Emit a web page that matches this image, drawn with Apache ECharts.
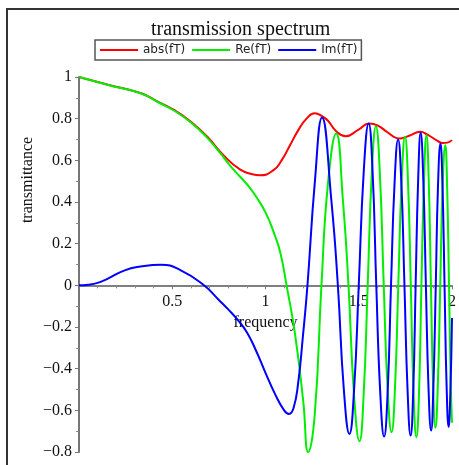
<!DOCTYPE html>
<html>
<head>
<meta charset="utf-8">
<script src="https://cdn.jsdelivr.net/npm/echarts@6/dist/echarts.min.js"></script>
<style>
  html, body { margin: 0; padding: 0; background: #fff; }
  #chart { width: 459px; height: 465px; }
</style>
</head>
<body>
<div id="chart"></div>
<script>
// |T(f)| — modulus of the transmission coefficient
const absFreq = [0, 0.156, 0.333, 0.422, 0.511, 0.6, 0.688, 0.777, 0.865, 0.93, 0.97, 1.043, 1.087, 1.13, 1.176, 1.22, 1.264, 1.303, 1.335, 1.379, 1.43, 1.495, 1.557, 1.6, 1.654, 1.7, 1.723, 1.77, 1.83, 1.87, 1.92, 1.95, 1.975, 2.0];
const absVal  = [1.0, 0.963, 0.922, 0.882, 0.841, 0.785, 0.713, 0.622, 0.555, 0.533, 0.528, 0.553, 0.601, 0.67, 0.745, 0.8, 0.826, 0.812, 0.79, 0.74, 0.716, 0.745, 0.777, 0.768, 0.735, 0.708, 0.705, 0.718, 0.737, 0.722, 0.695, 0.683, 0.685, 0.697];

// Re T(f)
const reFreq = [0, 0.156, 0.333, 0.422, 0.511, 0.6, 0.688, 0.759, 0.81, 0.865, 0.91, 0.95, 1.0, 1.05, 1.08, 1.113, 1.158, 1.202, 1.229, 1.264, 1.3, 1.335, 1.379, 1.415, 1.445, 1.475, 1.504, 1.526, 1.548, 1.57, 1.592, 1.613, 1.634, 1.655, 1.676, 1.694, 1.712, 1.73, 1.748, 1.764, 1.779, 1.794, 1.809, 1.823, 1.836, 1.85, 1.863, 1.875, 1.887, 1.899, 1.911, 1.924, 1.937, 1.95, 1.964, 1.974, 1.984, 1.993, 2.0];
const reVal  = [1.0, 0.962, 0.921, 0.88, 0.838, 0.782, 0.708, 0.633, 0.575, 0.52, 0.475, 0.425, 0.35, 0.24, 0.155, 0.0, -0.232, -0.553, -0.8, -0.62, 0.0, 0.489, 0.729, 0.409, 0.0, -0.53, -0.748, -0.53, 0.0, 0.54, 0.764, 0.54, 0.0, -0.5, -0.705, -0.5, 0.0, 0.5, 0.713, 0.5, 0.0, -0.52, -0.729, -0.52, 0.0, 0.51, 0.721, 0.51, 0.0, -0.49, -0.684, -0.48, 0.0, 0.48, 0.673, 0.47, 0.0, -0.46, -0.66];

// Im T(f)
const imFreq = [0, 0.05, 0.1, 0.15, 0.245, 0.33, 0.44, 0.546, 0.67, 0.75, 0.803, 0.85, 0.9, 0.95, 1.0, 1.05, 1.1, 1.126, 1.15, 1.175, 1.2, 1.225, 1.264, 1.303, 1.353, 1.388, 1.42, 1.45, 1.475, 1.5, 1.527, 1.553, 1.574, 1.594, 1.615, 1.636, 1.655, 1.673, 1.692, 1.711, 1.728, 1.745, 1.762, 1.778, 1.792, 1.805, 1.819, 1.832, 1.846, 1.86, 1.874, 1.888, 1.9, 1.913, 1.925, 1.938, 1.949, 1.96, 1.971, 1.982, 1.991, 2.0];
const imVal  = [0, 0.003, 0.012, 0.03, 0.072, 0.09, 0.099, 0.072, 0.0, -0.07, -0.118, -0.165, -0.225, -0.315, -0.42, -0.52, -0.6, -0.617, -0.59, -0.47, -0.25, 0.0, 0.489, 0.806, 0.409, 0.0, -0.5, -0.713, -0.5, 0.0, 0.55, 0.777, 0.55, 0.0, -0.51, -0.726, -0.51, 0.0, 0.49, 0.7, 0.5, 0.0, -0.51, -0.721, -0.51, 0.0, 0.52, 0.732, 0.51, 0.0, -0.49, -0.697, -0.49, 0.0, 0.48, 0.681, 0.48, 0.0, -0.48, -0.68, -0.52, -0.157];

const seriesNames = ['abs(fT)', 'Re(fT)', 'Im(fT)'];
const seriesColors = ['#ff0000', '#00ee00', '#0000ff'];

const xTicks = { min: 0, max: 2, step: 0.5 };
const yTicks = { min: -0.8, max: 1, step: 0.2 };

const zip = (xs, ys) => xs.map((x, i) => [x, ys[i]]);
const serif = '"Liberation Serif", "DejaVu Serif", serif';

const fmt = v => {
  const n = Number(v.toFixed(1));
  if (n === 0) return '0';
  return (n < 0 ? '\u2212' : '') + String(Math.abs(n));
};

// plot area
const gridBox = { left: 79, right: 4, top: 77, bottom: 13 };
const chartHeight = 465;
const plotHeight = chartHeight - gridBox.top - gridBox.bottom;
// lift the frequency axis from the bottom edge up to the y = 0 line
const xAxisLift = -plotHeight * (0 - yTicks.min) / (yTicks.max - yTicks.min);

const chart = echarts.init(document.getElementById('chart'), null, { renderer: 'canvas' });

const lineSeries = (name, color, data) => ({
  name: name,
  type: 'line',
  data: data,
  smooth: true,
  showSymbol: false,
  symbol: 'none',
  clip: false,
  animation: false,
  lineStyle: { color: color, width: 2 },
  itemStyle: { color: color }
});

chart.setOption({
  animation: false,
  title: {
    text: 'transmission spectrum',
    left: 146,
    top: 15,
    textStyle: { fontFamily: serif, fontSize: 20, fontWeight: 'normal', color: '#111' }
  },
  legend: {
    left: 95,
    top: 40,
    padding: [4, 4, 4, 5],
    itemGap: 7,
    itemWidth: 38,
    itemHeight: 2,
    borderColor: '#555',
    borderWidth: 1.5,
    icon: 'rect',
    textStyle: { fontFamily: '"DejaVu Sans", sans-serif', fontSize: 12, color: '#222' },
    data: seriesNames
  },
  graphic: [
    {
      type: 'rect',
      shape: { x: 7, y: 9, width: 470, height: 480 },
      style: { fill: 'none', stroke: '#333', lineWidth: 2 },
      silent: true
    },
    {
      type: 'text',
      x: 28,
      y: 180,
      rotation: Math.PI / 2,
      style: {
        text: 'transmittance',
        font: '16px ' + serif,
        fill: '#111',
        textAlign: 'center',
        textVerticalAlign: 'middle'
      },
      silent: true
    }
  ],
  grid: Object.assign({ containLabel: false }, gridBox),
  xAxis: {
    type: 'value',
    min: xTicks.min,
    max: xTicks.max,
    interval: xTicks.step,
    position: 'bottom',
    offset: xAxisLift,
    name: 'frequency',
    nameLocation: 'middle',
    nameGap: 29,
    nameTextStyle: { fontFamily: serif, fontSize: 16, color: '#111' },
    axisLine: { onZero: false, lineStyle: { color: '#555', width: 1.5 } },
    axisTick: { show: true, length: 4, lineStyle: { color: '#777' } },
    minorTick: { show: true, splitNumber: 5, length: 3, lineStyle: { color: '#888' } },
    splitLine: { show: false },
    axisLabel: {
      margin: 8,
      fontFamily: serif,
      fontSize: 16,
      color: '#111',
      formatter: v => (v === 0 ? '' : fmt(v))
    }
  },
  yAxis: {
    type: 'value',
    min: yTicks.min,
    max: yTicks.max,
    interval: yTicks.step,
    axisLine: { show: true, onZero: false, lineStyle: { color: '#777', width: 2 } },
    axisTick: { show: true, length: 4, lineStyle: { color: '#777' } },
    minorTick: { show: true, splitNumber: 2, length: 3, lineStyle: { color: '#888' } },
    splitLine: { show: false },
    axisLabel: {
      margin: 7,
      fontFamily: serif,
      fontSize: 16,
      color: '#111',
      formatter: fmt
    }
  },
  series: [
    lineSeries(seriesNames[0], seriesColors[0], zip(absFreq, absVal)),
    lineSeries(seriesNames[1], seriesColors[1], zip(reFreq, reVal)),
    lineSeries(seriesNames[2], seriesColors[2], zip(imFreq, imVal))
  ]
});
</script>
</body>
</html>
